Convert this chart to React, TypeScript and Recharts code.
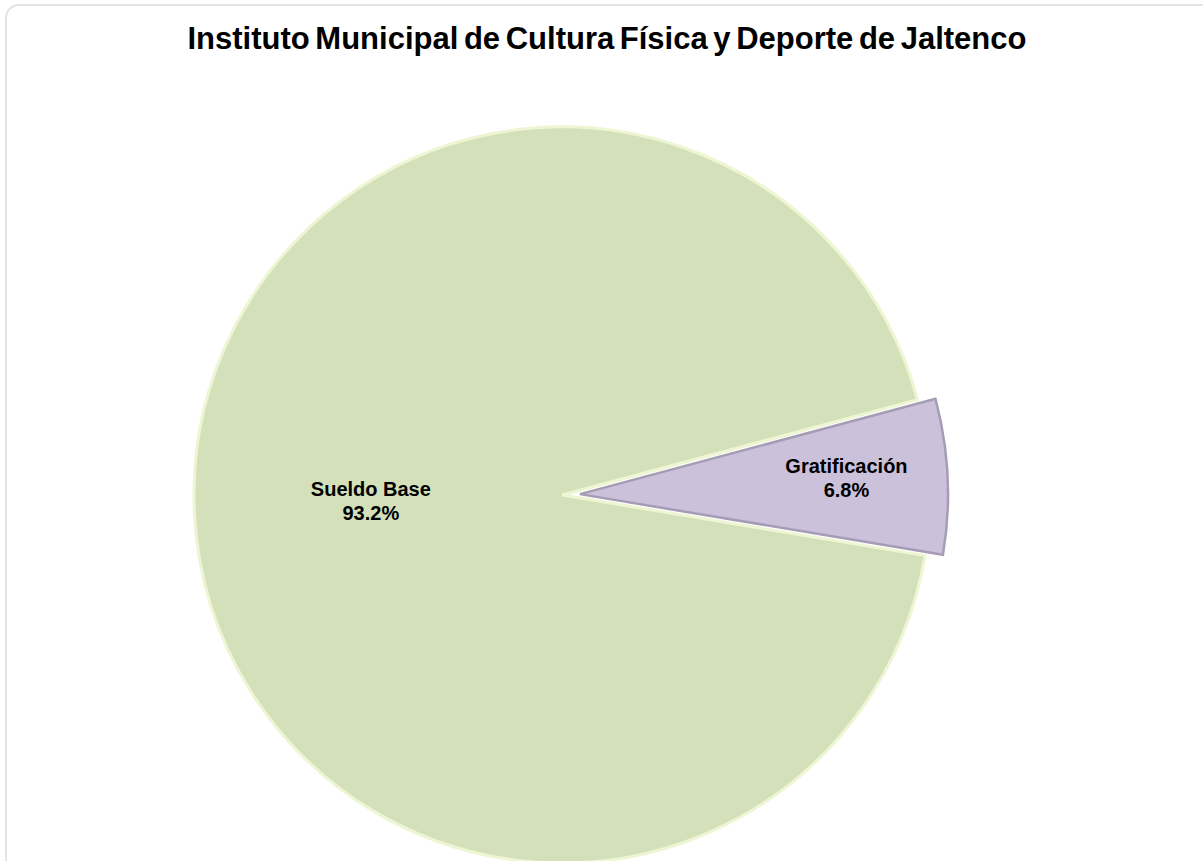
import React from 'react';
import { PieChart, Pie, Cell } from 'recharts';

const categories = ['Sueldo Base', 'Gratificación'];
const values = [93.2, 6.8];
const labels = ['93.2%', '6.8%'];
const colors = ['#d3e0b9', '#ccc1da'];
const strokes = ['#eef5d2', '#a59cb5'];

const title = 'Instituto Municipal de Cultura Física y Deporte de Jaltenco';

const data = categories.map((name, i) => ({ name, value: values[i], label: labels[i] }));

const CX = 557;
const CY = 490;
const R = 368;
const START = 15;
const EXPLODE = 18;

const RAD = Math.PI / 180;
const total = values.reduce((a, b) => a + b, 0);
const sueldoSpan = (values[0] / total) * 360;
const gratMid = START + sueldoSpan + ((values[1] / total) * 360) / 2;
const CX2 = CX + EXPLODE * Math.cos(gratMid * RAD);
const CY2 = CY - EXPLODE * Math.sin(gratMid * RAD);

const makeLabel = (which: number, ratio: number) => (props: any) => {
  const { cx, cy, midAngle, outerRadius, index, payload } = props;
  if (index !== which) return null;
  const r = outerRadius * ratio;
  const x = cx + r * Math.cos(-midAngle * RAD);
  const y = cy + r * Math.sin(-midAngle * RAD);
  const name = payload && payload.name ? payload.name : data[index].name;
  const lab = payload && payload.label ? payload.label : data[index].label;
  return (
    <text
      x={x}
      y={y}
      textAnchor="middle"
      fontFamily="Liberation Sans, Arial, sans-serif"
      fontWeight="bold"
      fontSize={20}
      fill="#000"
    >
      <tspan x={x} dy={-8}>{name}</tspan>
      <tspan x={x} dy={24}>{lab}</tspan>
    </text>
  );
};

export default function App() {
  return (
    <div style={{ position: 'absolute', left: 0, top: 0, width: 1203, height: 861, background: '#fff', overflow: 'hidden' }}>
      <div
        style={{
          position: 'absolute',
          left: 5,
          top: 4,
          width: 1210,
          height: 900,
          border: '2px solid #e4e4e0',
          borderRadius: 14,
          boxSizing: 'border-box',
        }}
      />
      <div
        style={{
          position: 'absolute',
          left: 0,
          top: 21,
          width: 1214,
          textAlign: 'center',
          fontFamily: 'Liberation Sans, Arial, sans-serif',
          fontWeight: 'bold',
          fontSize: 31,
          lineHeight: 'normal',
          color: '#000',
          wordSpacing: -3,
          whiteSpace: 'nowrap',
        }}
      >
        {title}
      </div>
      <div style={{ position: 'absolute', left: 0, top: 0 }}>
        <PieChart width={1203} height={861}>
          <Pie
            data={data}
            dataKey="value"
            nameKey="name"
            cx={CX}
            cy={CY}
            outerRadius={R}
            startAngle={START}
            endAngle={START + 360}
            isAnimationActive={false}
            labelLine={false}
            label={makeLabel(0, 0.52)}
          >
            {data.map((d, i) => (
              <Cell
                key={d.name}
                fill={i === 0 ? colors[0] : 'none'}
                stroke={i === 0 ? strokes[0] : 'none'}
                strokeWidth={3}
              />
            ))}
          </Pie>
          <Pie
            data={data}
            dataKey="value"
            nameKey="name"
            cx={CX2}
            cy={CY2}
            outerRadius={R}
            startAngle={START}
            endAngle={START + 360}
            isAnimationActive={false}
            labelLine={false}
            label={makeLabel(1, 0.725)}
          >
            {data.map((d, i) => (
              <Cell
                key={d.name}
                fill={i === 1 ? colors[1] : 'none'}
                stroke={i === 1 ? strokes[1] : 'none'}
                strokeWidth={2.5}
              />
            ))}
          </Pie>
        </PieChart>
      </div>
    </div>
  );
}
